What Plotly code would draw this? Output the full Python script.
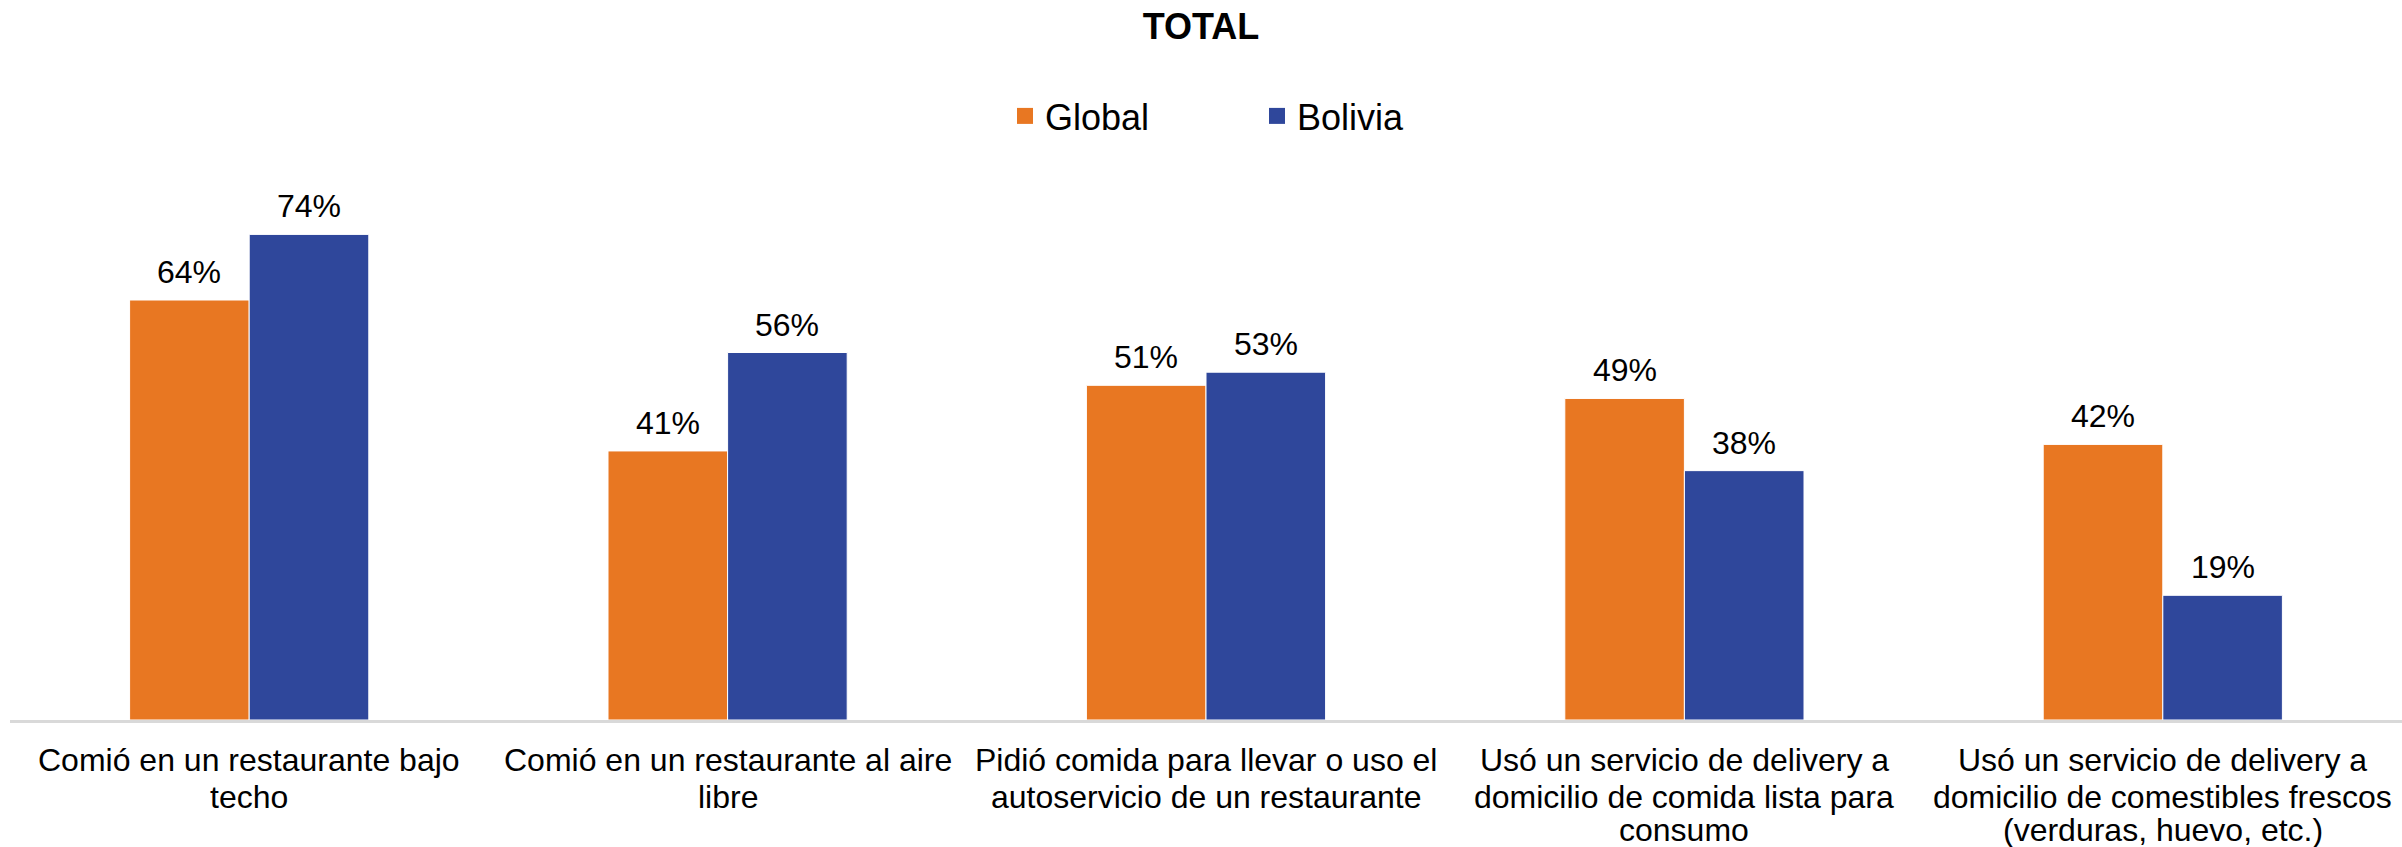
import plotly.graph_objects as go

categories = [
    "Comió en un restaurante bajo<br>techo",
    "Comió en un restaurante al aire<br>libre",
    "Pidió comida para llevar o uso el<br>autoservicio de un restaurante",
    "Usó un servicio de delivery a<br>domicilio de comida lista para<br>consumo",
    "Usó un servicio de delivery a<br>domicilio de comestibles frescos<br>(verduras, huevo, etc.)",
]
global_vals = [64, 41, 51, 49, 42]
bolivia_vals = [74, 56, 53, 38, 19]
series_names = ["Global", "Bolivia"]
colors = ["#E87722", "#2F479B"]

FONT = "Liberation Sans, Arial, sans-serif"
W, H = 2402, 847
L, R, T, B = 10, 0, 195, 127
plot_h = H - T - B
y_max = 80

x_idx = list(range(len(categories)))

fig = go.Figure()
offsets = [-0.125, 0.125]
for name, vals, col in zip(series_names, [global_vals, bolivia_vals], colors):
    fig.add_trace(go.Bar(
        name=name, x=x_idx, y=vals,
        marker=dict(color=col, line=dict(color="white", width=1)),
        showlegend=False, hoverinfo="x+y",
    ))
    # legend proxy
    fig.add_trace(go.Scatter(
        name=name, x=[None], y=[None], mode="markers",
        marker=dict(symbol="square", size=18, color=col), showlegend=True,
    ))

annotations = []
# data labels
for off, vals in zip(offsets, [global_vals, bolivia_vals]):
    for i, v in enumerate(vals):
        annotations.append(dict(
            x=i + off, y=v, xref="x", yref="y", text=f"{v}%", showarrow=False,
            yanchor="middle", yshift=28,
            font=dict(size=32, color="#000000", family=FONT),
        ))
# category labels, one line at a time
line_px = [760, 797, 830]
for i, cat in enumerate(categories):
    for j, line in enumerate(cat.split("<br>")):
        annotations.append(dict(
            x=i, y=(H - B - line_px[j]) / plot_h, xref="x", yref="paper",
            text=line, showarrow=False, yanchor="middle", xanchor="center",
            font=dict(size=32, color="#000000", family=FONT),
        ))

fig.update_layout(
    width=W, height=H,
    margin=dict(l=L, r=R, t=T, b=B, autoexpand=False),
    paper_bgcolor="white", plot_bgcolor="white",
    barmode="group", bargap=0.5, bargroupgap=0.0,
    font=dict(family=FONT, size=32, color="#000000"),
    title=dict(text="<b>TOTAL</b>", x=0.5, xanchor="center", y=1 - 26 / H, yanchor="middle",
               yref="container", font=dict(size=36, color="#000000", family=FONT)),
    legend=dict(orientation="h", x=(1005 - L) / (W - L - R), xanchor="left",
                y=(H - B - 116) / plot_h, yanchor="middle",
                font=dict(size=36, color="#000000", family=FONT), entrywidth=207,
                traceorder="normal"),
    annotations=annotations,
    showlegend=True,
)
fig.update_xaxes(range=[-0.5, len(categories) - 0.5], showline=True, linecolor="#D9D9D9",
                 linewidth=3, showgrid=False, zeroline=False, showticklabels=False,
                 ticks="", automargin=False)
fig.update_yaxes(range=[0, y_max], visible=False, showgrid=False, zeroline=False,
                 automargin=False)

fig.write_html("out.html", config={"displayModeBar": False},
               post_script="document.body.style.margin='0';document.body.style.overflow='hidden';")
